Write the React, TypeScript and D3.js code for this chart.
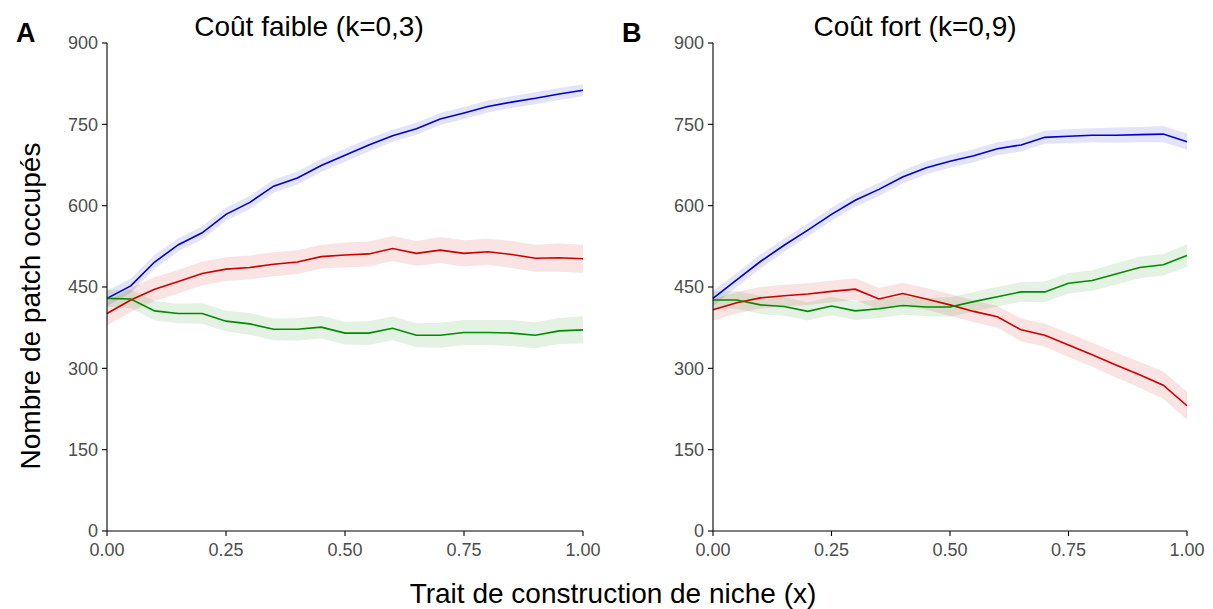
import React from "react";
import * as d3 from "d3";

// x positions of the simulations (trait value)
const xValues = [0, 0.05, 0.1, 0.15, 0.2, 0.25, 0.3, 0.35, 0.4, 0.45, 0.5, 0.55, 0.6, 0.65, 0.7, 0.75, 0.8, 0.85, 0.9, 0.95, 1];

const xTicks = [0, 0.25, 0.5, 0.75, 1];
const yTicks = [0, 150, 300, 450, 600, 750, 900];

// panel A - coût faible (k=0,3)
const lowBlue = [429, 452, 496, 528, 550, 584, 606, 636, 651, 674, 693, 712, 729, 742, 760, 771, 783, 791, 798, 806, 813];
const lowRed = [401, 426, 446, 460, 475, 483, 486, 492, 496, 506, 509, 511, 521, 512, 518, 512, 515, 510, 503, 504, 502];
const lowGreen = [429, 428, 406, 401, 401, 387, 382, 372, 372, 376, 365, 365, 374, 361, 361, 366, 366, 365, 361, 369, 371];
const lowBlueSe = [14, 13, 13, 12, 12, 12, 12, 12, 12, 12, 12, 12, 11, 11, 11, 11, 11, 11, 11, 11, 11];
const lowRedSe = [22, 22, 22, 22, 22, 22, 22, 22, 22, 22, 23, 23, 23, 23, 24, 24, 24, 25, 25, 26, 26];
const lowGreenSe = [16, 17, 18, 18, 19, 19, 20, 20, 21, 21, 21, 22, 22, 22, 23, 23, 23, 24, 24, 24, 25];

// panel B - coût fort (k=0,9)
const highBlue = [429, 463, 497, 527, 555, 584, 610, 630, 653, 670, 682, 692, 705, 712, 726, 728, 730, 730, 731, 732, 718];
const highRed = [408, 421, 430, 434, 437, 442, 446, 428, 438, 428, 417, 405, 395, 371, 361, 343, 325, 306, 288, 269, 231];
const highGreen = [426, 426, 417, 414, 405, 415, 406, 410, 416, 413, 413, 423, 432, 441, 441, 457, 462, 474, 486, 491, 508];
const highBlueSe = [14, 13, 13, 12, 12, 12, 12, 12, 12, 12, 12, 12, 12, 12, 12, 13, 13, 14, 14, 15, 15];
const highRedSe = [20, 20, 20, 20, 20, 20, 20, 20, 20, 20, 20, 20, 20, 21, 21, 22, 22, 23, 24, 25, 26];
const highGreenSe = [16, 16, 17, 17, 17, 17, 17, 17, 17, 17, 18, 18, 18, 18, 19, 19, 19, 20, 20, 20, 21];

const BLUE = "#0000cd";
const RED = "#cd0000";
const GREEN = "#008b00";

const FONT = "'Liberation Sans', Arial, Helvetica, sans-serif";

interface Series {
    values: number[];
    se: number[];
    color: string;
}

interface PanelProps {
    left: number;
    right: number;
    letter: string;
    letterX: number;
    title: string;
    titleX: number;
    series: Series[];
}

const top = 43;
const bottom = 531;

const yScale = d3.scaleLinear().domain([0, 900]).range([bottom, top]);

const Panel: React.FC<PanelProps> = ({ left, right, letter, letterX, title, titleX, series }) => {
    const xScale = d3.scaleLinear().domain([0, 1]).range([left, right]);

    const line = d3
        .line<number>()
        .x((_, i) => xScale(xValues[i]))
        .y((d) => yScale(d));

    return (
        <g>
            <text x={letterX} y={42} fontFamily={FONT} fontWeight="bold" fontSize={27} fill="#000">
                {letter}
            </text>
            <text x={titleX} y={36} textAnchor="middle" fontFamily={FONT} fontSize={28} fill="#000">
                {title}
            </text>

            {/* ribbons */}
            {series.map((s, k) => {
                const area = d3
                    .area<number>()
                    .x((_, i) => xScale(xValues[i]))
                    .y0((d, i) => yScale(d - s.se[i]))
                    .y1((d, i) => yScale(d + s.se[i]));
                return <path key={"a" + k} d={area(s.values) || ""} fill={s.color} fillOpacity={0.11} />;
            })}

            {/* lines */}
            {series.map((s, k) => (
                <path key={"l" + k} d={line(s.values) || ""} fill="none" stroke={s.color} strokeWidth={1.6} />
            ))}

            {/* y axis */}
            <line x1={left} x2={left} y1={top} y2={bottom} stroke="#000" strokeWidth={1.1} />
            {yTicks.map((t) => (
                <g key={"y" + t}>
                    <line x1={left - 5} x2={left} y1={yScale(t)} y2={yScale(t)} stroke="#000" strokeWidth={1.1} />
                    <text
                        x={left - 9}
                        y={yScale(t)}
                        dy="0.36em"
                        textAnchor="end"
                        fontFamily={FONT}
                        fontSize={18}
                        fill="#4d4d4d"
                    >
                        {t}
                    </text>
                </g>
            ))}

            {/* x axis */}
            <line x1={left} x2={right} y1={bottom} y2={bottom} stroke="#000" strokeWidth={1.1} />
            {xTicks.map((t) => (
                <g key={"x" + t}>
                    <line x1={xScale(t)} x2={xScale(t)} y1={bottom} y2={bottom + 5} stroke="#000" strokeWidth={1.1} />
                    <text x={xScale(t)} y={556} textAnchor="middle" fontFamily={FONT} fontSize={18} fill="#4d4d4d">
                        {d3.format(".2f")(t)}
                    </text>
                </g>
            ))}
        </g>
    );
};

export default function App() {
    return (
        <svg
            width={1213}
            height={609}
            style={{ position: "absolute", left: 0, top: 0, background: "#fff" }}
        >
            <rect width={1213} height={609} fill="#fff" />
            <Panel
                left={107}
                right={583}
                letter="A"
                letterX={16}
                title="Coût faible (k=0,3)"
                titleX={309}
                series={[
                    { values: lowBlue, se: lowBlueSe, color: BLUE },
                    { values: lowRed, se: lowRedSe, color: RED },
                    { values: lowGreen, se: lowGreenSe, color: GREEN },
                ]}
            />
            <Panel
                left={713}
                right={1187}
                letter="B"
                letterX={622}
                title="Coût fort (k=0,9)"
                titleX={915}
                series={[
                    { values: highBlue, se: highBlueSe, color: BLUE },
                    { values: highRed, se: highRedSe, color: RED },
                    { values: highGreen, se: highGreenSe, color: GREEN },
                ]}
            />
            <text
                transform="translate(40,306) rotate(-90)"
                textAnchor="middle"
                fontFamily={FONT}
                fontSize={28}
                fill="#000"
            >
                Nombre de patch occupés
            </text>
            <text x={613} y={603} textAnchor="middle" fontFamily={FONT} fontSize={28} fill="#000">
                Trait de construction de niche (x)
            </text>
        </svg>
    );
}
